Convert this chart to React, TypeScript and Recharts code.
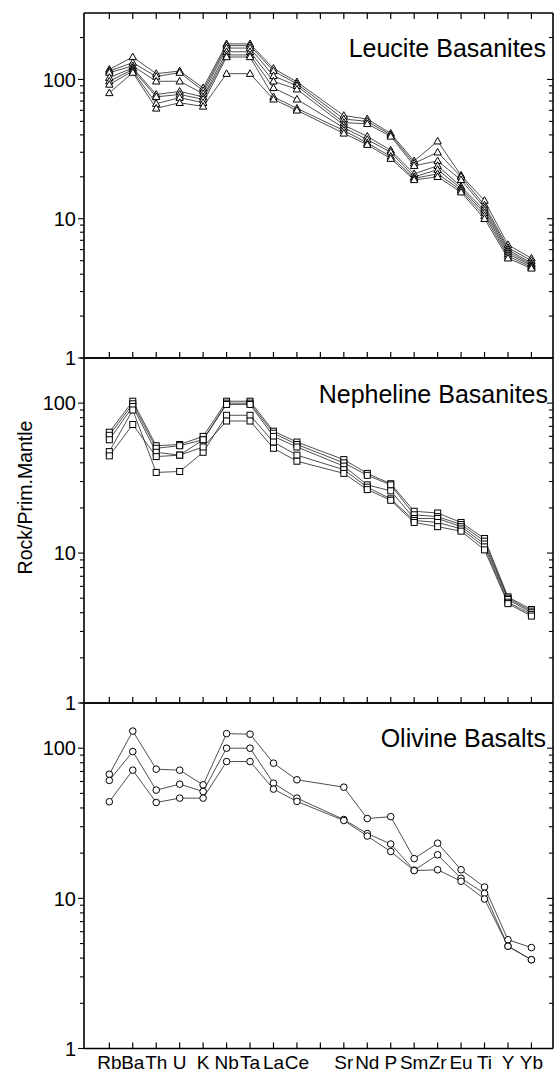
import React from 'react';
import { LineChart, Line, XAxis, YAxis } from 'recharts';

// ---------- categories / tick labels ----------
const tickLabels = ['Rb', 'Ba', 'Th', 'U', 'K', 'Nb', 'Ta', 'La', 'Ce', '', 'Sr', 'Nd', 'P', 'Sm', 'Zr', 'Eu', 'Ti', 'Y', 'Yb'];
const elements = ['Rb', 'Ba', 'Th', 'U', 'K', 'Nb', 'Ta', 'La', 'Ce', 'Sr', 'Nd', 'P', 'Sm', 'Zr', 'Eu', 'Ti', 'Y', 'Yb'];

// ---------- Leucite Basanites (Rock / Primitive Mantle) ----------
const leucite1 = [118, 145, 110, 115, 87, 180, 180, 120, 96, 55, 52, 41, 26, 36, 20.5, 13.5, 6.5, 5.2];
const leucite2 = [115, 132, 105, 112, 83, 175, 175, 115, 93, 52, 50, 40, 25, 30, 20, 12.5, 6.2, 5.0];
const leucite3 = [112, 125, 97, 97, 79, 168, 168, 106, 90, 49, 48, 39, 24, 26, 19, 12, 6.0, 4.8];
const leucite4 = [103, 121, 78, 82, 75, 158, 158, 97, 85, 47, 39, 31, 21, 24, 17, 11.5, 5.8, 4.7];
const leucite5 = [97, 118, 75, 78, 72, 150, 150, 87, 72, 45, 37, 30, 20, 22.5, 16.5, 11, 5.6, 4.6];
const leucite6 = [92, 115, 67, 74, 68, 145, 145, 75, 62, 43, 35, 28, 19.5, 21, 16, 10.5, 5.4, 4.5];
const leucite7 = [80, 112, 62, 68, 64, 110, 110, 72, 60, 41, 34, 27, 19, 20, 15.5, 10, 5.2, 4.4];

// ---------- Nepheline Basanites ----------
const nepheline1 = [64, 103, 52, 53, 60, 103, 103, 65, 55, 42, 34, 29, 19, 18.5, 16, 12.5, 5.1, 4.2];
const nepheline2 = [61, 99, 50, 52, 57, 100, 100, 63, 53, 40, 33, 28.5, 18, 17.5, 15.5, 12, 5.0, 4.1];
const nepheline3 = [57, 95, 47, 45, 57, 98, 98, 60, 51, 38, 28.5, 26, 17, 17, 15, 11.5, 4.9, 4.0];
const nepheline4 = [47.5, 90, 34.5, 35, 47, 83, 83, 55, 45, 36, 27.5, 23, 16.5, 16, 14.5, 11, 4.7, 3.9];
const nepheline5 = [44.5, 72, 44, 45, 51, 76, 76, 50, 41, 34, 26.5, 22.5, 16, 15, 14, 10.5, 4.6, 3.8];

// ---------- Olivine Basalts ----------
const olivine1 = [67, 130, 72.5, 71.4, 57, 125, 124, 79.5, 61.6, 55, 34, 35, 18.4, 23.3, 15.5, 11.9, 5.3, 4.7];
const olivine2 = [61, 95, 52.6, 57.6, 51.5, 100, 100, 58.5, 46.5, 33.5, 27, 23, 15.4, 19.5, 13.6, 10.8, 4.8, 3.9];
const olivine3 = [44, 71.4, 43.5, 46.5, 46.5, 81.5, 81.5, 53.4, 44.2, 33, 26, 20.5, 15.3, 15.5, 13, 9.9, 4.8, 3.9];

const leuciteSeries = [leucite1, leucite2, leucite3, leucite4, leucite5, leucite6, leucite7];
const nephelineSeries = [nepheline1, nepheline2, nepheline3, nepheline4, nepheline5];
const olivineSeries = [olivine1, olivine2, olivine3];

const xTicks = tickLabels.map((_, i) => i + 1);
const xDomain: [number, number] = [-0.08, 19.92];
const yTicksBase = [1, 2, 3, 4, 5, 6, 7, 8, 9, 10, 20, 30, 40, 50, 60, 70, 80, 90, 100, 200];

const FONT = "'Liberation Sans', Arial, Helvetica, sans-serif";

function buildRows(series: number[][]) {
  return elements.map((el, i) => {
    const row: any = { x: tickLabels.indexOf(el) + 1 };
    series.forEach((s, k) => {
      row['s' + k] = s[i];
    });
    return row;
  });
}

// ---------- markers ----------
const Triangle = (p: any) => {
  const { cx, cy } = p;
  if (cx == null || cy == null) return <g key={p.key} />;
  return (
    <path
      key={`t-${p.dataKey}-${p.index}`}
      d={`M${cx},${cy - 3.9} L${cx + 3.7},${cy + 2.7} L${cx - 3.7},${cy + 2.7} Z`}
      fill="#fff"
      stroke="#000"
      strokeWidth={1}
    />
  );
};
const Square = (p: any) => {
  const { cx, cy } = p;
  if (cx == null || cy == null) return <g key={p.key} />;
  return (
    <rect
      key={`s-${p.dataKey}-${p.index}`}
      x={cx - 3}
      y={cy - 3}
      width={6}
      height={6}
      fill="#fff"
      stroke="#000"
      strokeWidth={1}
    />
  );
};
const Circle = (p: any) => {
  const { cx, cy } = p;
  if (cx == null || cy == null) return <g key={p.key} />;
  return <circle key={`c-${p.dataKey}-${p.index}`} cx={cx} cy={cy} r={3.3} fill="#fff" stroke="#000" strokeWidth={1} />;
};

// ---------- ticks ----------
const isMajor = (v: number) => v === 1 || v === 10 || v === 100;

const BottomTick = (p: any) => {
  const { x, y, payload, showLabel } = p;
  const label = tickLabels[payload.value - 1];
  return (
    <g>
      <line x1={x} x2={x} y1={y} y2={y - 6} stroke="#000" strokeWidth={1.2} />
      {showLabel && label ? (
        <text x={x} y={y + 20.5} textAnchor="middle" fontSize={19} fontFamily={FONT} fill="#000">
          {label}
        </text>
      ) : null}
    </g>
  );
};

const TopTick = (p: any) => {
  const { x, y, show } = p;
  if (!show) return <g />;
  return <line x1={x} x2={x} y1={y} y2={y + 6} stroke="#000" strokeWidth={1.2} />;
};

const LeftTick = (p: any) => {
  const { x, y, payload, yMax } = p;
  const v = payload.value;
  if (v > yMax) return <g />;
  const major = isMajor(v);
  return (
    <g>
      <line x1={x} x2={x - (major ? 6 : 4)} y1={y} y2={y} stroke="#000" strokeWidth={1.1} />
      {major ? (
        <text x={x - 8} y={y} dy="0.36em" textAnchor="end" fontSize={20} fontFamily={FONT} fill="#000">
          {v}
        </text>
      ) : null}
    </g>
  );
};

const RightTick = (p: any) => {
  const { x, y, payload, yMax } = p;
  const v = payload.value;
  if (v >= yMax || v <= 1) return <g />;
  const major = isMajor(v);
  return <line x1={x} x2={x - (major ? 6 : 4)} y1={y} y2={y} stroke="#000" strokeWidth={1.1} />;
};

type PanelProps = {
  plotTop: number;
  plotH: number;
  yMax: number;
  series: number[][];
  Marker: (p: any) => any;
  showXLabels: boolean;
  topTicks: boolean;
};

function Panel({ plotTop, plotH, yMax, series, Marker, showXLabels, topTicks }: PanelProps) {
  const data = buildRows(series);
  const yTicks = yTicksBase.filter((t) => t <= yMax);
  const axisLine = { stroke: '#000', strokeWidth: 1.6 };
  return (
    <div style={{ position: 'absolute', left: 0, top: plotTop - 1 }}>
      <LineChart width={555} height={plotH + 2} data={data} margin={{ top: 0, right: 1, bottom: 0, left: 0 }}>
        <XAxis
          xAxisId="b"
          orientation="bottom"
          type="number"
          dataKey="x"
          domain={xDomain}
          ticks={xTicks}
          allowDataOverflow
          interval={0}
          height={1}
          tickSize={0}
          tickMargin={0}
          tickLine={false}
          axisLine={axisLine}
          tick={(p: any) => <BottomTick {...p} showLabel={showXLabels} />}
        />
        <XAxis
          xAxisId="t"
          orientation="top"
          type="number"
          dataKey="x"
          domain={xDomain}
          ticks={xTicks}
          allowDataOverflow
          interval={0}
          height={1}
          tickSize={0}
          tickMargin={0}
          tickLine={false}
          axisLine={axisLine}
          tick={(p: any) => <TopTick {...p} show={topTicks} />}
        />
        <YAxis
          yAxisId="l"
          orientation="left"
          type="number"
          scale="log"
          domain={[1, yMax]}
          allowDataOverflow
          ticks={yTicks}
          interval={0}
          width={84}
          tickSize={0}
          tickMargin={0}
          tickLine={false}
          axisLine={axisLine}
          tick={(p: any) => <LeftTick {...p} yMax={yMax} />}
        />
        <YAxis
          yAxisId="r"
          orientation="right"
          type="number"
          scale="log"
          domain={[1, yMax]}
          allowDataOverflow
          ticks={yTicks}
          interval={0}
          width={1}
          tickSize={0}
          tickMargin={0}
          tickLine={false}
          axisLine={axisLine}
          tick={(p: any) => <RightTick {...p} yMax={yMax} />}
        />
        {series.map((_, k) => (
          <Line
            key={k}
            xAxisId="b"
            yAxisId="l"
            type="linear"
            dataKey={'s' + k}
            stroke="#222"
            strokeWidth={0.8}
            dot={(p: any) => <Marker {...p} key={`m-${k}-${p.index}`} />}
            activeDot={false}
            isAnimationActive={false}
          />
        ))}
      </LineChart>
    </div>
  );
}

export default function App() {
  return (
    <div style={{ position: 'absolute', left: 0, top: 0, width: 555, height: 1072, background: '#fff' }}>
      <style>{`.recharts-surface{overflow:visible}`}</style>
      <Panel plotTop={13} plotH={345} yMax={300} series={leuciteSeries} Marker={Triangle} showXLabels={false} topTicks={true} />
      <Panel plotTop={358} plotH={345} yMax={200} series={nephelineSeries} Marker={Square} showXLabels={false} topTicks={false} />
      <Panel plotTop={703} plotH={345.5} yMax={200} series={olivineSeries} Marker={Circle} showXLabels={true} topTicks={false} />
      <svg
        width={555}
        height={1072}
        style={{ position: 'absolute', left: 0, top: 0, pointerEvents: 'none' }}
      >
        <text x={546} y={57.3} textAnchor="end" fontSize={25} fontFamily={FONT} fill="#000">
          Leucite Basanites
        </text>
        <text x={548} y={402.7} textAnchor="end" fontSize={25} fontFamily={FONT} fill="#000">
          Nepheline Basanites
        </text>
        <text x={546} y={747.3} textAnchor="end" fontSize={25} fontFamily={FONT} fill="#000">
          Olivine Basalts
        </text>
        <text
          x={32}
          y={497.5}
          transform="rotate(-90 32 497.5)"
          textAnchor="middle"
          fontSize={19.5}
          fontFamily={FONT}
          fill="#000"
        >
          Rock/Prim.Mantle
        </text>
      </svg>
    </div>
  );
}
